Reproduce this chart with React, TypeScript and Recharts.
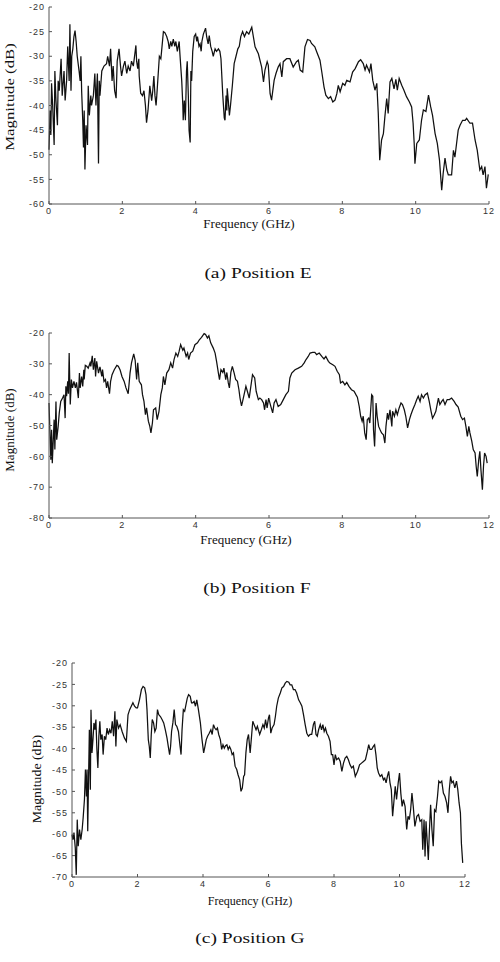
import { LineChart, Line, XAxis, YAxis } from "recharts";

// shared axis ticks
const freqTicks = [0, 2, 4, 6, 8, 10, 12];
const ticksE = [-60, -55, -50, -45, -40, -35, -30, -25, -20];
const ticksF = [-80, -70, -60, -50, -40, -30, -20];
const ticksG = [-70, -65, -60, -55, -50, -45, -40, -35, -30, -25, -20];

// (a) Position E
const freqE = [
  0.0, 0.03, 0.05, 0.07, 0.1, 0.14, 0.16, 0.19, 0.23, 0.25,
  0.28, 0.33, 0.36, 0.41, 0.44, 0.48, 0.51, 0.55, 0.57, 0.6,
  0.62, 0.65, 0.68, 0.71, 0.74, 0.77, 0.82, 0.85, 0.87, 0.89,
  0.92, 0.94, 0.96, 0.98, 1.01, 1.05, 1.07, 1.1, 1.14, 1.16,
  1.21, 1.25, 1.28, 1.32, 1.34, 1.35, 1.37, 1.39, 1.44, 1.5,
  1.57, 1.6, 1.65, 1.68, 1.72, 1.75, 1.79, 1.83, 1.86, 1.91,
  1.95, 1.98, 2.03, 2.07, 2.12, 2.16, 2.21, 2.25, 2.3, 2.35,
  2.37, 2.39, 2.42, 2.45, 2.46, 2.5, 2.55, 2.59, 2.63, 2.66,
  2.7, 2.75, 2.8, 2.83, 2.86, 2.89, 2.92, 2.94, 3.01, 3.05,
  3.07, 3.12, 3.16, 3.21, 3.25, 3.28, 3.32, 3.35, 3.39, 3.43,
  3.46, 3.5, 3.55, 3.57, 3.62, 3.65, 3.66, 3.69, 3.72, 3.75,
  3.77, 3.8, 3.82, 3.85, 3.87, 3.89, 3.92, 3.96, 4.0, 4.03,
  4.05, 4.09, 4.12, 4.15, 4.17, 4.21, 4.27, 4.3, 4.34, 4.37,
  4.41, 4.45, 4.48, 4.53, 4.57, 4.62, 4.66, 4.69, 4.74, 4.78,
  4.8, 4.83, 4.85, 4.86, 4.89, 4.92, 4.95, 5.0, 5.05, 5.1,
  5.15, 5.19, 5.23, 5.28, 5.33, 5.39, 5.45, 5.53, 5.62, 5.71,
  5.8, 5.85, 5.89, 5.95, 5.98, 6.03, 6.07, 6.14, 6.19, 6.25,
  6.3, 6.35, 6.39, 6.48, 6.57, 6.66, 6.75, 6.8, 6.85, 6.92,
  6.98, 7.05, 7.12, 7.16, 7.25, 7.3, 7.39, 7.44, 7.5, 7.55,
  7.62, 7.68, 7.74, 7.8, 7.85, 7.89, 7.94, 8.01, 8.07, 8.12,
  8.21, 8.28, 8.35, 8.44, 8.5, 8.57, 8.62, 8.66, 8.74, 8.78,
  8.83, 8.89, 8.94, 8.98, 9.02, 9.07, 9.12, 9.16, 9.21, 9.25,
  9.3, 9.35, 9.41, 9.46, 9.5, 9.55, 9.62, 9.68, 9.75, 9.83,
  9.89, 9.93, 9.96, 9.98, 10.03, 10.1, 10.16, 10.21, 10.28, 10.35,
  10.41, 10.46, 10.53, 10.59, 10.65, 10.71, 10.75, 10.8, 10.85, 10.89,
  10.98, 11.03, 11.07, 11.16, 11.21, 11.28, 11.35, 11.39, 11.48, 11.55,
  11.62, 11.68, 11.75, 11.8, 11.84, 11.89, 11.93, 11.98,
];
const magE = [
  -49, -41, -46, -35.5, -40, -48, -33, -39, -44, -35,
  -37, -30.5, -38, -33, -39, -35, -28, -35, -23.5, -37,
  -30, -28.5, -26, -24.8, -27, -30, -33, -35, -30, -37,
  -43, -48.5, -41, -53, -44, -48, -36, -42, -38, -40,
  -38, -33.5, -40, -33.5, -46, -51.8, -35, -38, -33, -32,
  -31.5, -30, -32, -28.5, -35, -32, -37, -38.5, -31, -28.5,
  -32, -34, -32, -31, -33.5, -32, -33, -31, -32, -29,
  -27.8, -31, -32.5, -30.5, -34, -37.5, -38, -37, -40, -43.5,
  -41, -36, -39, -37, -34, -38, -40, -38, -30, -30.5,
  -29, -25, -25.2, -26, -27, -28.5, -27, -28, -26.5, -28,
  -27, -29, -27, -29.5, -35, -40, -43, -39, -43, -33,
  -31, -38, -45, -47.5, -33, -35, -29, -26, -25.5, -27,
  -26, -28, -27.5, -29, -27, -25.5, -24.3, -26, -27.5, -25.8,
  -28, -29, -30, -28.5, -29, -28.5, -29, -30.5, -38, -42.5,
  -43, -38, -41, -36.5, -39, -42, -40, -36, -31.5, -30,
  -28.5, -28, -26, -25, -26, -25, -25.5, -24.1, -28.1, -29.5,
  -32.2, -35.2, -32.8, -31.1, -31.8, -37.6, -38.9, -34.9, -33.5, -32.2,
  -31.5, -34.2, -31.1, -30.5, -30.5, -32.2, -31.1, -30.8, -32.8, -33.2,
  -28.1, -26.6, -26.8, -27.4, -28.1, -29.1, -30.8, -33.2, -36.2, -37.9,
  -38.6, -38.2, -39.3, -38.9, -37.6, -35.9, -37.2, -35.5, -35.9, -34.9,
  -35.2, -33.2, -32.5, -31.1, -30.7, -31.5, -32.8, -31.8, -33.2, -31.5,
  -34.9, -36.9, -35.5, -41.6, -51.1, -47, -45.7, -42.3, -38.6, -41.6,
  -35.2, -34.5, -36.6, -34.7, -36.9, -34.5, -35.9, -36.9, -38.2, -39.3,
  -40.3, -43.6, -47.7, -51.8, -47.7, -47, -43, -40.9, -41.2, -37.9,
  -40.3, -42, -45.7, -47.7, -51.1, -57.2, -53.8, -50.7, -53.1, -54.1,
  -54.1, -49.1, -50.5, -45, -44, -43, -43, -42.6, -43.6, -43.6,
  -47, -49.1, -53.1, -52.4, -54.1, -52.4, -56.8, -54,
];

// (b) Position F
const freqF = [
  0.0, 0.05, 0.07, 0.09, 0.14, 0.16, 0.19, 0.21, 0.25, 0.28,
  0.32, 0.37, 0.41, 0.44, 0.46, 0.48, 0.51, 0.53, 0.55, 0.58,
  0.61, 0.64, 0.68, 0.72, 0.75, 0.8, 0.83, 0.85, 0.89, 0.92,
  0.95, 0.96, 0.99, 1.03, 1.07, 1.12, 1.14, 1.18, 1.21, 1.25,
  1.27, 1.3, 1.35, 1.39, 1.44, 1.46, 1.5, 1.54, 1.57, 1.6,
  1.65, 1.68, 1.72, 1.78, 1.85, 1.89, 1.94, 1.99, 2.05, 2.1,
  2.16, 2.21, 2.25, 2.31, 2.35, 2.39, 2.42, 2.46, 2.52, 2.55,
  2.59, 2.63, 2.66, 2.71, 2.75, 2.78, 2.82, 2.85, 2.91, 2.95,
  3.0, 3.05, 3.09, 3.12, 3.16, 3.21, 3.27, 3.32, 3.37, 3.41,
  3.46, 3.51, 3.55, 3.59, 3.65, 3.68, 3.74, 3.78, 3.81, 3.86,
  3.92, 3.98, 4.05, 4.1, 4.16, 4.23, 4.27, 4.32, 4.36, 4.41,
  4.48, 4.53, 4.57, 4.62, 4.65, 4.69, 4.74, 4.77, 4.82, 4.85,
  4.89, 4.92, 4.96, 5.0, 5.05, 5.09, 5.14, 5.18, 5.21, 5.25,
  5.28, 5.34, 5.37, 5.41, 5.46, 5.55, 5.61, 5.65, 5.71, 5.75,
  5.8, 5.85, 5.88, 5.92, 5.95, 5.99, 6.05, 6.1, 6.14, 6.19,
  6.25, 6.32, 6.39, 6.46, 6.53, 6.57, 6.62, 6.71, 6.8, 6.89,
  6.96, 7.01, 7.07, 7.12, 7.19, 7.25, 7.3, 7.37, 7.44, 7.5,
  7.55, 7.62, 7.66, 7.74, 7.8, 7.86, 7.92, 7.95, 8.01, 8.07,
  8.12, 8.18, 8.25, 8.32, 8.37, 8.41, 8.46, 8.5, 8.54, 8.57,
  8.61, 8.65, 8.68, 8.72, 8.75, 8.8, 8.83, 8.85, 8.88, 8.92,
  8.95, 8.99, 9.03, 9.07, 9.12, 9.16, 9.19, 9.23, 9.26, 9.3,
  9.35, 9.37, 9.42, 9.46, 9.5, 9.55, 9.6, 9.64, 9.69, 9.73,
  9.78, 9.83, 9.87, 9.92, 9.98, 10.03, 10.07, 10.12, 10.16, 10.21,
  10.26, 10.32, 10.37, 10.42, 10.46, 10.51, 10.55, 10.62, 10.66, 10.71,
  10.75, 10.8, 10.86, 10.92, 10.98, 11.05, 11.1, 11.16, 11.23, 11.28,
  11.33, 11.37, 11.41, 11.45, 11.48, 11.53, 11.57, 11.62, 11.65, 11.68,
  11.72, 11.75, 11.78, 11.82, 11.85, 11.88, 11.92, 11.95,
];
const magF = [
  -42.7, -61.1, -51.4, -62.2, -48.1, -57.8, -42.2, -54.6, -50.3, -45.9,
  -42.2, -41.1, -40, -47.6, -37.3, -40.5, -35.7, -39.7, -26.5, -43.2,
  -35.1, -37.8, -35.7, -37.8, -36, -41.1, -33, -37.8, -34.1, -37.3,
  -31.9, -35.1, -30.5, -30.8, -31.4, -29.7, -30.8, -27.4, -31.9, -28.1,
  -34.1, -29.2, -33, -31, -34.1, -31.9, -35.7, -35.1, -37.8, -35.7,
  -39.7, -35.7, -33.5, -31.9, -30.5, -30.8, -32, -34.1, -35.7, -37.8,
  -39.7, -33, -29.7, -26.8, -28.9, -35.1, -29.7, -35.7, -36.8, -40,
  -42.2, -46.5, -44.3, -48.6, -50.3, -52.4, -49.2, -44.9, -44.3, -48.1,
  -45.4, -40, -37.8, -34.1, -36.8, -33, -31.9, -29.7, -31.4, -28.6,
  -26.5, -27.6, -25.9, -23.8, -25.6, -24.9, -27.6, -26.5, -28.6, -26.5,
  -25.9, -23.8, -23.2, -22.2, -21.4, -20.2, -20.5, -21.6, -20.9, -23.2,
  -24.9, -26.5, -29.2, -33, -35.1, -31.9, -32.8, -31.4, -35.1, -32.8,
  -36.2, -37.8, -32.8, -30.8, -33, -35.1, -35.7, -38.4, -41.1, -43.6,
  -42.2, -38.9, -37.3, -38.9, -41.1, -33.5, -34.6, -38.9, -41.6, -41.1,
  -41.6, -42.7, -44.9, -41.6, -44.3, -41.1, -43.8, -45.9, -42.7, -41.6,
  -43.8, -43.2, -41.6, -40, -38.9, -34.6, -33, -31.9, -31.4, -30.8,
  -29.7, -28.6, -27.6, -26.5, -26.3, -26.3, -27, -26.5, -27.6, -28.4,
  -27.6, -29.2, -29.7, -30.3, -30.8, -32.4, -33.5, -36.2, -35.7, -36.8,
  -36, -37.3, -38.4, -38.9, -40, -40.8, -43.8, -47, -48.6, -47,
  -52.4, -54.6, -48.1, -47.6, -49.2, -40, -40.5, -51.4, -56.8, -42.7,
  -47, -50.3, -51.4, -52.4, -53, -55.7, -50.3, -46, -48.1, -44.9,
  -50.3, -45.4, -47, -44.9, -46.5, -44.3, -42.7, -43.2, -44.9, -47,
  -50.8, -48.1, -46.5, -44.9, -43.2, -41.6, -40.5, -42.2, -40, -41.1,
  -40, -39.5, -42.2, -45.4, -47.6, -46.5, -45.4, -41.1, -43.2, -42.2,
  -41.6, -43.2, -41.6, -41.6, -41.1, -42.2, -43.2, -44, -47, -48.1,
  -47.6, -50.3, -53.5, -50.3, -52.4, -55.1, -57.8, -58.9, -63.2, -66.5,
  -61.1, -58.4, -64.3, -70.8, -63.2, -58.9, -60, -62.2,
];

// (c) Position G
const freqG = [
  0.0, 0.03, 0.06, 0.1, 0.13, 0.16, 0.19, 0.23, 0.27, 0.31,
  0.34, 0.38, 0.41, 0.44, 0.46, 0.48, 0.51, 0.53, 0.56, 0.58,
  0.61, 0.64, 0.67, 0.7, 0.73, 0.76, 0.79, 0.82, 0.85, 0.88,
  0.92, 0.95, 0.99, 1.03, 1.07, 1.11, 1.15, 1.19, 1.23, 1.27,
  1.31, 1.34, 1.37, 1.42, 1.47, 1.53, 1.6, 1.66, 1.71, 1.76,
  1.81, 1.86, 1.91, 1.96, 2.0, 2.06, 2.12, 2.17, 2.22, 2.26,
  2.29, 2.33, 2.36, 2.39, 2.42, 2.45, 2.49, 2.53, 2.57, 2.61,
  2.65, 2.7, 2.75, 2.8, 2.85, 2.9, 2.94, 2.98, 3.01, 3.04,
  3.08, 3.12, 3.16, 3.2, 3.25, 3.3, 3.33, 3.36, 3.4, 3.44,
  3.48, 3.52, 3.56, 3.61, 3.65, 3.69, 3.73, 3.77, 3.81, 3.86,
  3.92, 3.97, 4.02, 4.06, 4.1, 4.14, 4.19, 4.24, 4.28, 4.32,
  4.36, 4.4, 4.44, 4.48, 4.53, 4.57, 4.61, 4.65, 4.69, 4.73,
  4.77, 4.81, 4.85, 4.89, 4.93, 4.98, 5.03, 5.07, 5.12, 5.16,
  5.2, 5.24, 5.27, 5.31, 5.35, 5.39, 5.44, 5.52, 5.56, 5.62,
  5.66, 5.73, 5.78, 5.83, 5.87, 5.91, 5.95, 6.0, 6.03, 6.07,
  6.11, 6.17, 6.21, 6.25, 6.3, 6.36, 6.41, 6.46, 6.51, 6.56,
  6.62, 6.66, 6.71, 6.76, 6.81, 6.86, 6.92, 6.97, 7.02, 7.07,
  7.12, 7.17, 7.22, 7.27, 7.32, 7.37, 7.41, 7.45, 7.49, 7.53,
  7.58, 7.62, 7.66, 7.7, 7.74, 7.78, 7.83, 7.88, 7.92, 7.96,
  8.0, 8.04, 8.08, 8.14, 8.19, 8.24, 8.29, 8.34, 8.39, 8.44,
  8.49, 8.54, 8.59, 8.65, 8.72, 8.78, 8.84, 8.9, 8.96, 9.02,
  9.06, 9.1, 9.15, 9.2, 9.24, 9.28, 9.32, 9.36, 9.41, 9.46,
  9.51, 9.55, 9.59, 9.63, 9.67, 9.71, 9.75, 9.79, 9.83, 9.87,
  9.91, 9.96, 10.0, 10.04, 10.08, 10.12, 10.17, 10.22, 10.26, 10.3,
  10.34, 10.38, 10.42, 10.47, 10.53, 10.58, 10.63, 10.68, 10.71, 10.75,
  10.78, 10.81, 10.85, 10.88, 10.91, 10.95, 10.99, 11.03, 11.07, 11.11,
  11.16, 11.2, 11.24, 11.29, 11.34, 11.39, 11.44, 11.48, 11.52, 11.56,
  11.6, 11.64, 11.69, 11.74, 11.78, 11.82, 11.86, 11.89, 11.93,
];
const magG = [
  -60.1, -61.3, -59.6, -63.2, -69.5, -56.6, -62.8, -58.9, -61.3, -58.9,
  -56.2, -51.9, -44.9, -51.2, -44.9, -59.3, -44.9, -35.6, -49.6, -30.9,
  -41, -37.9, -34, -35.6, -33.2, -40.2, -44.5, -37.1, -33.6, -37.9,
  -36.7, -41.4, -37.1, -37.9, -35.2, -36.7, -35.6, -36.4, -33.6, -37.1,
  -31.3, -39.5, -33.2, -35.2, -34.4, -36, -37.5, -38.3, -32.1, -30.9,
  -30.1, -29.3, -30.1, -30.5, -30.5, -28.6, -26.2, -25.5, -25.8, -27.4,
  -30.9, -37.9, -39.5, -42.2, -36.7, -33.2, -34, -36, -35.2, -30.9,
  -32.1, -32.5, -33.2, -34, -35.6, -37.5, -39.5, -41.4, -39.5, -36,
  -34, -30.9, -34.4, -34.8, -36, -39.5, -41.4, -35.6, -30.9, -31.3,
  -29.7, -28.2, -27.4, -27.8, -29.3, -29.3, -29, -30.1, -28.6, -30.9,
  -34, -37.9, -41, -39.5, -37.9, -37.1, -36.4, -35.6, -36.7, -34.4,
  -35.2, -35.6, -35.2, -36.7, -37.9, -40.2, -39.1, -39.9, -39.3, -39.1,
  -40.2, -39.5, -40.2, -41.4, -41, -44.1, -44.9, -46.1, -47.3, -50,
  -49.2, -46.5, -46.1, -41, -37.9, -36.7, -41, -33.6, -34.4, -35.6,
  -34.8, -36.7, -35.6, -34.4, -35.2, -33.2, -35.2, -32.8, -32.1, -36.4,
  -35.2, -34.4, -32.5, -30.1, -28.2, -27, -25.8, -25.5, -24.7, -24.3,
  -24.5, -25.1, -25.1, -26.2, -26.2, -27, -28.6, -29.3, -30.1, -32.1,
  -34.4, -36.4, -37.1, -36.7, -36.7, -34.4, -33.6, -36.7, -37.1, -35.6,
  -34.4, -35.6, -34.4, -36, -35.2, -36.4, -37.1, -38.3, -41.4, -41.4,
  -43.8, -41.4, -42.6, -42.2, -43, -45.3, -43.4, -42.2, -41.8, -42.6,
  -43.8, -44.5, -44.1, -46.5, -45.3, -43.8, -43.4, -43, -42.6, -40.6,
  -39.1, -40.2, -40.2, -39.5, -39.1, -41.4, -44.5, -45.7, -46.5, -46.1,
  -47.3, -46.9, -48, -46.5, -45.3, -48, -49.6, -55.8, -52.3, -48.8,
  -51.9, -48, -45.7, -50.4, -53.5, -51.9, -53.5, -58.9, -55.8, -56.6,
  -54.3, -50.4, -53.5, -58.2, -55.8, -55.4, -57, -56.6, -63.6, -56.6,
  -65.2, -57, -62.1, -66, -59.7, -53.1, -58.9, -62.8, -54.3, -54.7,
  -51.2, -47.6, -48, -47.6, -50.4, -51.2, -52.7, -55, -49.6, -46.5,
  -48, -47.6, -49.2, -47.6, -49.6, -52.7, -55, -62.1, -66.7,
];

const toRows = (f: number[], m: number[]) => f.map((x, i) => ({ f: x, m: m[i] }));

// matlab-style labels: short and wide
const tickFont = {
  fontSize: 9,
  letterSpacing: 1,
  fill: "#333",
  fontFamily: "Liberation Sans, Arial, sans-serif",
};
const AXIS = "#555";

interface PanelProps {
  rows: { f: number; m: number }[];
  yTicks: number[];
  top: number;
  height: number;
  left: number;
  right: number;
}

function Panel({ rows, yTicks, top, height, left, right }: PanelProps) {
  const yDomain = [yTicks[0], yTicks[yTicks.length - 1]];
  return (
    <div style={{ position: "absolute", left: 0, top }}>
      <LineChart width={500} height={height} data={rows} margin={{ top: 7, right, bottom: 6, left }}>
        <XAxis
          dataKey="f"
          type="number"
          domain={[0, 12]}
          ticks={freqTicks}
          interval={0}
          height={20}
          stroke={AXIS}
          tickSize={-3}
          tickMargin={7}
          tick={tickFont}
        />
        <XAxis
          xAxisId="top"
          orientation="top"
          type="number"
          domain={[0, 12]}
          ticks={freqTicks}
          interval={0}
          height={0}
          mirror
          stroke={AXIS}
          tickSize={3}
          tick={false}
        />
        <YAxis
          type="number"
          domain={yDomain}
          ticks={yTicks}
          interval={0}
          width={40}
          stroke={AXIS}
          tickSize={-3}
          tickMargin={7}
          tick={tickFont}
        />
        <YAxis
          yAxisId="right"
          orientation="right"
          type="number"
          domain={yDomain}
          ticks={yTicks}
          interval={0}
          width={0}
          mirror
          stroke={AXIS}
          tickSize={3}
          tick={false}
        />
        <Line
          dataKey="m"
          type="linear"
          stroke="#111"
          strokeWidth={1.25}
          dot={false}
          isAnimationActive={false}
        />
      </LineChart>
    </div>
  );
}

const serif = "Liberation Serif, 'Times New Roman', serif";

function Text({
  x, y, size, stretch = 1, children,
}: { x: number; y: number; size: number; stretch?: number; children: string }) {
  return (
    <div
      style={{
        position: "absolute",
        left: x - 100,
        top: y - size * 0.6,
        width: 200,
        textAlign: "center",
        fontFamily: serif,
        fontSize: size,
        lineHeight: `${size * 1.2}px`,
        color: "#111",
        whiteSpace: "nowrap",
        transform: `scaleX(${stretch})`,
      }}
    >
      {children}
    </div>
  );
}

// rotated y title, stretched along its length like the original
function VText({ x, y, stretch, children }: { x: number; y: number; stretch: number; children: string }) {
  return (
    <div
      style={{
        position: "absolute",
        left: x - 60,
        top: y - 8,
        width: 120,
        textAlign: "center",
        fontFamily: serif,
        fontSize: 13,
        lineHeight: "16px",
        color: "#111",
        whiteSpace: "nowrap",
        transform: `rotate(-90deg) scaleX(${stretch})`,
      }}
    >
      {children}
    </div>
  );
}

export default function App() {
  return (
    <div style={{ position: "relative", width: 500, height: 962, background: "#fff", overflow: "hidden" }}>
      <style>{"body{margin:0}"}</style>

      <Panel rows={toRows(freqE, magE)} yTicks={ticksE} top={0} height={230} left={9} right={11} />
      <VText x={10} y={97} stretch={1.29}>Magnitude (dB)</VText>
      <Text x={249} y={224} size={13}>Frequency (GHz)</Text>
      <Text x={258} y={273} size={15} stretch={1.3}>(a) Position E</Text>

      <Panel rows={toRows(freqF, magF)} yTicks={ticksF} top={326} height={218} left={9} right={11} />
      <VText x={10} y={430} stretch={1.0}>Magnitude (dB)</VText>
      <Text x={246} y={540} size={13}>Frequency (GHz)</Text>
      <Text x={257} y={588} size={15} stretch={1.3}>(b) Position F</Text>

      <Panel rows={toRows(freqG, magG)} yTicks={ticksG} top={656} height={247} left={32} right={35} />
      <VText x={37} y={779} stretch={1.06}>Magnitude (dB)</VText>
      <Text x={250} y={901} size={12}>Frequency (GHz)</Text>
      <Text x={250} y={938} size={15} stretch={1.3}>(c) Position G</Text>
    </div>
  );
}
